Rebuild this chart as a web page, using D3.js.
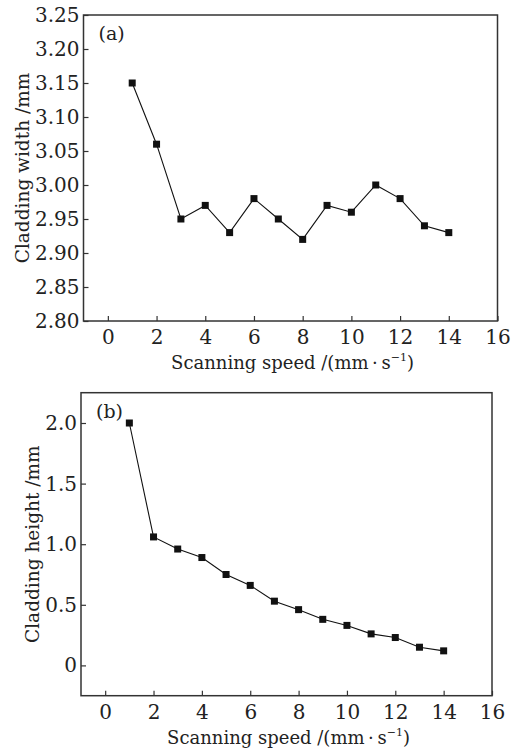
<!DOCTYPE html>
<html>
<head>
<meta charset="utf-8">
<script src="https://cdn.jsdelivr.net/npm/d3@7"></script>
<style>
  body { margin: 0; background: #fff; }
  svg text { font-family: "DejaVu Serif", serif; fill: #222; }
</style>
</head>
<body>
<script>
// scanning speed, mm/s
var speeds = [1, 2, 3, 4, 5, 6, 7, 8, 9, 10, 11, 12, 13, 14];
var widths = [3.15, 3.06, 2.95, 2.97, 2.93, 2.98, 2.95, 2.92, 2.97, 2.96, 3.00, 2.98, 2.94, 2.93];
var heights = [2.0, 1.06, 0.96, 0.89, 0.75, 0.66, 0.53, 0.46, 0.38, 0.33, 0.26, 0.23, 0.15, 0.12];
var xTicks = [0, 2, 4, 6, 8, 10, 12, 14, 16];
var widthTicks = [2.80, 2.85, 2.90, 2.95, 3.00, 3.05, 3.10, 3.15, 3.20, 3.25];
var heightTicks = [0, 0.5, 1.0, 1.5, 2.0];

var svg = d3.select("body").append("svg")
  .attr("width", 525)
  .attr("height", 752);

function drawPanel(opt){
  var x = d3.scaleLinear().domain([-1, 16]).range([opt.left, opt.right]);
  var y = d3.scaleLinear().domain(opt.yDomain).range([opt.bottom, opt.top]);
  var g = svg.append("g");

  var xAxis = g.append("g")
    .attr("transform", "translate(0," + opt.bottom + ")")
    .call(d3.axisBottom(x).tickValues(xTicks).tickSizeInner(-5).tickSizeOuter(0).tickPadding(9).tickFormat(d3.format("d")));
  var yAxis = g.append("g")
    .attr("transform", "translate(" + opt.left + ",0)")
    .call(d3.axisLeft(y).tickValues(opt.yTicks).tickSizeInner(-5).tickSizeOuter(0).tickPadding(4).tickFormat(opt.fmt));

  [xAxis, yAxis].forEach(function(a){
    a.select(".domain").remove();
    a.selectAll(".tick line").attr("stroke", "#333").attr("stroke-width", 1.2);
    a.selectAll("text").attr("font-size", 20).attr("fill", "#222");
  });

  g.append("rect")
    .attr("x", opt.left).attr("y", opt.top)
    .attr("width", opt.right - opt.left).attr("height", opt.bottom - opt.top)
    .attr("fill", "none").attr("stroke", "#333").attr("stroke-width", 1.5);

  var line = d3.line()
    .x(function(d, i){ return x(speeds[i]); })
    .y(function(d){ return y(d); });

  g.append("path")
    .datum(opt.values)
    .attr("d", line)
    .attr("fill", "none")
    .attr("stroke", "#111")
    .attr("stroke-width", 1.1);

  g.selectAll("rect.pt")
    .data(opt.values)
    .enter().append("rect")
    .attr("class", "pt")
    .attr("x", function(d, i){ return x(speeds[i]) - 3.5; })
    .attr("y", function(d){ return y(d) - 3.5; })
    .attr("width", 7).attr("height", 7)
    .attr("fill", "#111");

  g.append("text")
    .attr("x", opt.left + 15).attr("y", opt.top + opt.tagDy)
    .attr("font-size", 19)
    .text(opt.tag);

  var xt = g.append("text")
    .attr("x", (opt.left + opt.right) / 2 + 2).attr("y", opt.bottom + 48)
    .attr("text-anchor", "middle")
    .attr("font-size", 18);
  xt.append("tspan").text("Scanning speed /(mm\u2009\u00b7\u2009s");
  xt.append("tspan").attr("font-size", 11).attr("dy", -8).text("\u22121");
  xt.append("tspan").attr("dy", 8).text(")");

  g.append("text")
    .attr("transform", "translate(" + opt.yTitleX + "," + (opt.top + opt.bottom) / 2 + ") rotate(-90)")
    .attr("text-anchor", "middle")
    .attr("font-size", 18.5)
    .text(opt.yTitle);
}

drawPanel({
  left: 83.5, right: 497.5, top: 15, bottom: 321,
  yDomain: [2.80, 3.25], yTicks: widthTicks, fmt: d3.format(".2f"),
  values: widths, tag: "(a)", tagDy: 25,
  yTitle: "Cladding width /mm", yTitleX: 29
});

drawPanel({
  left: 81, right: 492, top: 392.7, bottom: 695.7,
  yDomain: [-0.25, 2.25], yTicks: heightTicks, fmt: function(d){ return d === 0 ? "0" : d3.format(".1f")(d); },
  values: heights, tag: "(b)", tagDy: 25,
  yTitle: "Cladding height /mm", yTitleX: 39
});
</script>
</body>
</html>
